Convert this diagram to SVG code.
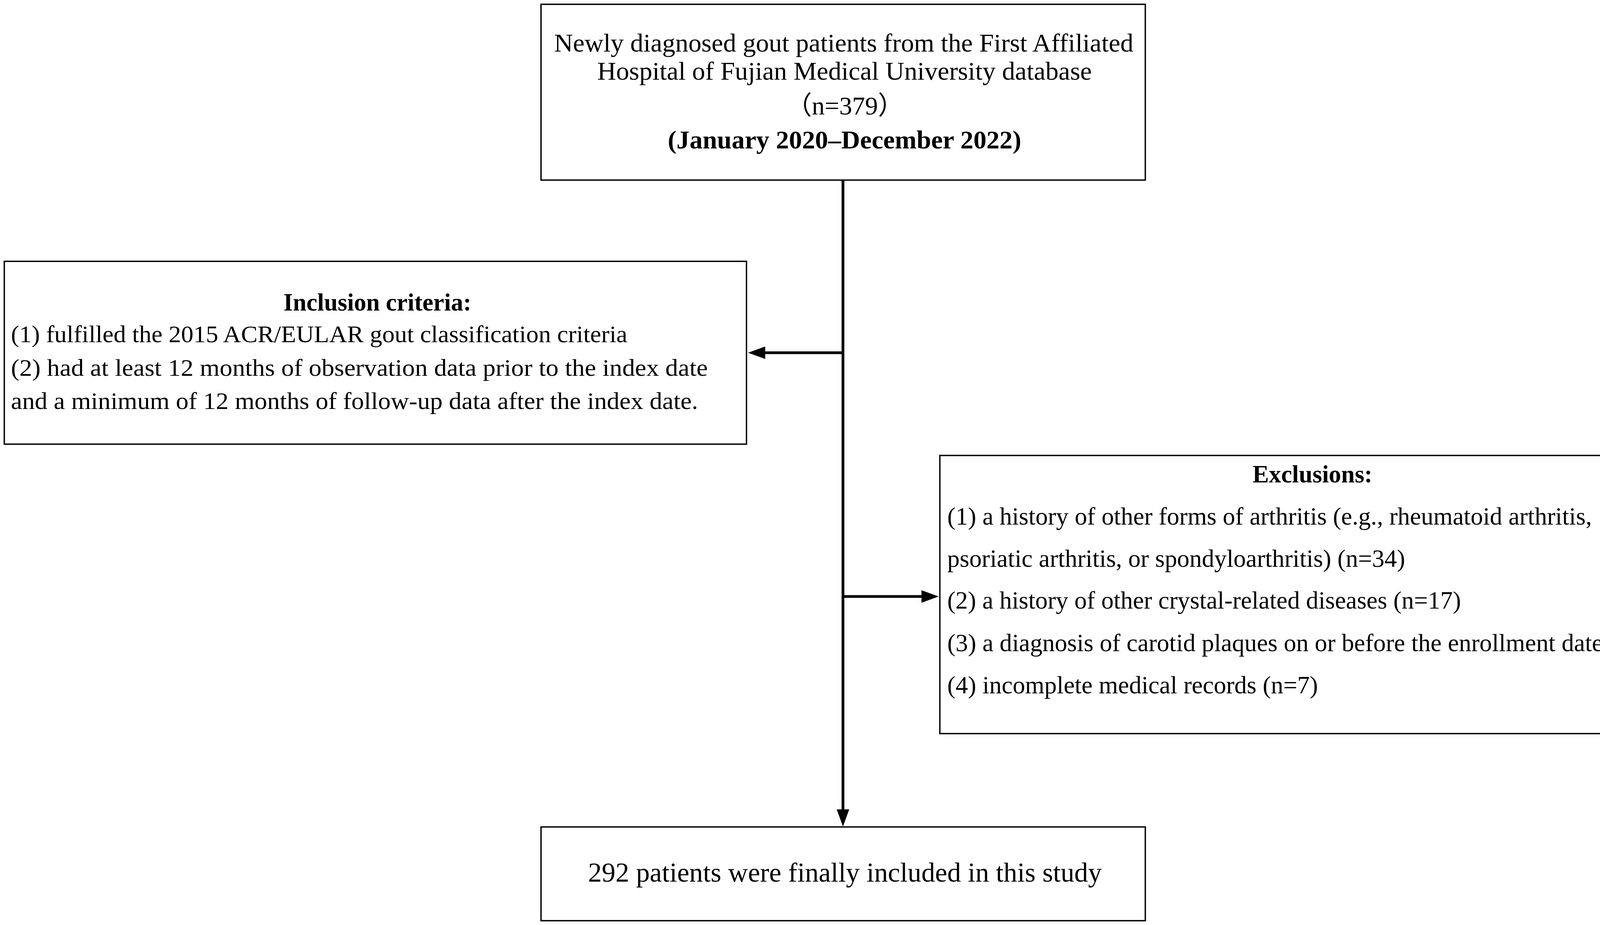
<svg xmlns="http://www.w3.org/2000/svg" width="4317" height="2368" viewBox="0 0 4317 2368">
<style>
.box{fill:#fff;stroke:#000;stroke-width:3.5}
.t{font-family:"Liberation Serif","Times New Roman",serif;fill:#000}
.b{font-weight:bold}
.c{text-anchor:middle}
.conn{stroke:#000;stroke-width:7;fill:none}
</style>
<defs>
<marker id="ah" markerUnits="userSpaceOnUse" markerWidth="44" markerHeight="32" refX="3" refY="16" orient="auto">
<path d="M0,0 L44,16 L0,32 z" fill="#000"/>
</marker>
</defs>
<rect width="4317" height="2368" fill="#fff"/>
<g id="connectors">
<path class="conn" d="M2158,462 L2158,2075" marker-end="url(#ah)"/>
<path class="conn" d="M2158,903 L1956,903" marker-end="url(#ah)"/>
<path class="conn" d="M2158,1527 L2362,1527" marker-end="url(#ah)"/>
</g>
<g id="node-source">
<rect class="box" x="1385" y="11" width="1547" height="450"/>
<text class="t c" x="2160" y="132" font-size="66" textLength="1483" lengthAdjust="spacingAndGlyphs">Newly diagnosed gout patients from the First Affiliated</text>
<text class="t c" x="2162" y="204" font-size="66" textLength="1266" lengthAdjust="spacingAndGlyphs">Hospital of Fujian Medical University database</text>
<text class="c" x="2163" y="293" font-size="66" font-family="'Liberation Serif','Noto Sans CJK SC',serif">（n=379）</text>
<text class="t b c" x="2162" y="380" font-size="66" textLength="905" lengthAdjust="spacingAndGlyphs">(January 2020–December 2022)</text>
</g>
<g id="node-inclusion">
<rect class="box" x="11" y="669" width="1900" height="468"/>
<text class="t b c" x="966" y="795" font-size="63" textLength="481" lengthAdjust="spacingAndGlyphs">Inclusion criteria:</text>
<text class="t" x="28" y="876" font-size="62" textLength="1578" lengthAdjust="spacingAndGlyphs">(1) fulfilled the 2015 ACR/EULAR gout classification criteria</text>
<text class="t" x="28" y="962" font-size="62" textLength="1784" lengthAdjust="spacingAndGlyphs">(2) had at least 12 months of observation data prior to the index date</text>
<text class="t" x="28" y="1047" font-size="62" textLength="1759" lengthAdjust="spacingAndGlyphs">and a minimum of 12 months of follow-up data after the index date.</text>
</g>
<g id="node-exclusions">
<rect class="box" x="2406" y="1166" width="1902" height="712"/>
<text class="t b c" x="3360" y="1235" font-size="63" textLength="307" lengthAdjust="spacingAndGlyphs">Exclusions:</text>
<text class="t" x="2425" y="1343" font-size="64" textLength="1650" lengthAdjust="spacingAndGlyphs">(1) a history of other forms of arthritis (e.g., rheumatoid arthritis,</text>
<text class="t" x="2425" y="1451" font-size="64" textLength="1172" lengthAdjust="spacingAndGlyphs">psoriatic arthritis, or spondyloarthritis) (n=34)</text>
<text class="t" x="2425" y="1558" font-size="64" textLength="1315" lengthAdjust="spacingAndGlyphs">(2) a history of other crystal-related diseases (n=17)</text>
<text class="t" x="2425" y="1667" font-size="64" textLength="1868" lengthAdjust="spacingAndGlyphs">(3) a diagnosis of carotid plaques on or before the enrollment date (n=29)</text>
<text class="t" x="2425" y="1775" font-size="64" textLength="949" lengthAdjust="spacingAndGlyphs">(4) incomplete medical records (n=7)</text>
</g>
<g id="node-final">
<rect class="box" x="1385" y="2117" width="1547" height="240"/>
<text class="t c" x="2163" y="2257" font-size="69" textLength="1315" lengthAdjust="spacingAndGlyphs">292 patients were finally included in this study</text>
</g>
</svg>
